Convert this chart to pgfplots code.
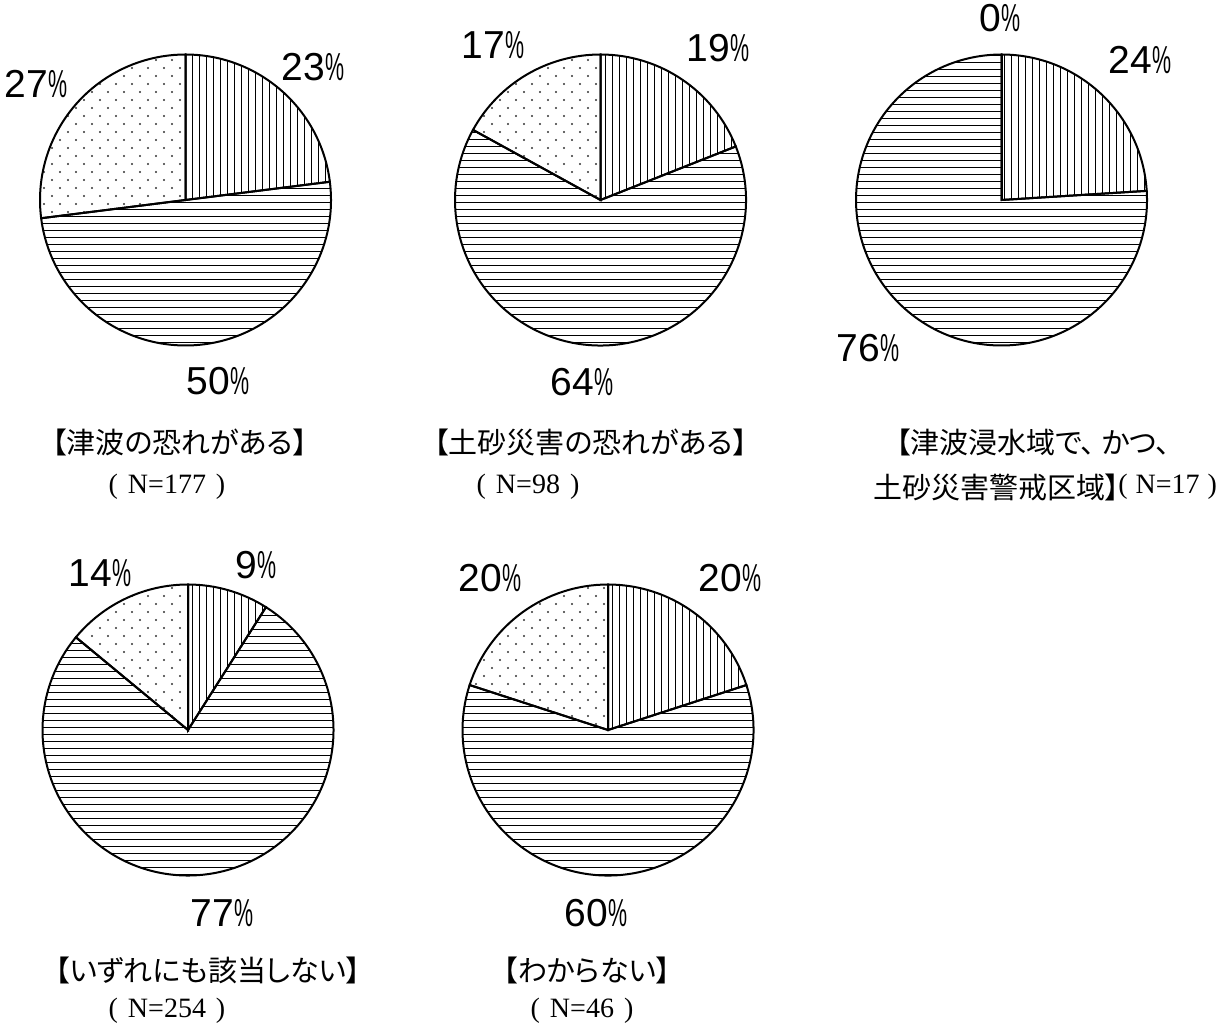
\documentclass[border=0pt]{standalone}
\usepackage{pgfplots}
\pgfplotsset{compat=1.18}
\usepackage{graphicx}
\usepackage{fontspec}
\setmainfont{Liberation Sans}
\newfontfamily\cjk[RawFeature=+palt]{Noto Sans CJK JP}
\newfontfamily\ser{Liberation Serif}
\usetikzlibrary{patterns}

\pgfdeclarepatternformonly{vlines}{\pgfpoint{-1pt}{-1pt}}{\pgfpoint{4.5pt}{4.5pt}}{\pgfpoint{3.5pt}{3.5pt}}{%
  \pgfsetlinewidth{0.65pt}%
  \pgfpathmoveto{\pgfpoint{1.75pt}{-0.5pt}}%
  \pgfpathlineto{\pgfpoint{1.75pt}{4pt}}%
  \pgfusepath{stroke}}
\pgfdeclarepatternformonly{hlines}{\pgfpoint{-1pt}{-1pt}}{\pgfpoint{4.5pt}{4.5pt}}{\pgfpoint{3.5pt}{3.5pt}}{%
  \pgfsetlinewidth{0.65pt}%
  \pgfpathmoveto{\pgfpoint{-0.5pt}{1.75pt}}%
  \pgfpathlineto{\pgfpoint{4pt}{1.75pt}}%
  \pgfusepath{stroke}}
\pgfdeclarepatternformonly{sdots}{\pgfpoint{-1pt}{-1pt}}{\pgfpoint{9pt}{9pt}}{\pgfpoint{8pt}{8pt}}{%
  \pgfpathcircle{\pgfpoint{2pt}{2pt}}{0.55pt}%
  \pgfpathcircle{\pgfpoint{6pt}{6pt}}{0.55pt}%
  \pgfusepath{fill}}

\def\R{72.75pt}
% #1,#2 centre (image px), #3 vertical-lines share, #4 horizontal-lines share, #5 dotted share (percent)
\newcommand{\pie}[5]{%
  \pgfmathsetmacro\angA{90-3.6*#3}%
  \pgfmathsetmacro\angB{\angA-3.6*#4}%
  \edef\temp{%
    \noexpand\draw[line width=1pt,pattern=vlines] (axis cs:#1,#2) -- ++(90:\R) arc[start angle=90,end angle=\angA,radius=\R] -- cycle;
    \noexpand\draw[line width=1pt,pattern=hlines] (axis cs:#1,#2) -- ++(\angA:\R) arc[start angle=\angA,end angle=\angB,radius=\R] -- cycle;
    \noexpand\draw[line width=1pt,pattern=sdots,pattern color=black!80] (axis cs:#1,#2) -- ++(\angB:\R) arc[start angle=\angB,end angle=-270,radius=\R] -- cycle;
  }\temp}
\newcommand\pct{\scalebox{0.55}[1]{\%}}

\begin{document}
\begin{tikzpicture}
\begin{axis}[x=0.5pt, y=0.5pt, y dir=reverse, xmin=0, xmax=1230, ymin=0, ymax=1032,
  hide axis, clip=false]
\path (axis cs:0,0) (axis cs:1230,1032);
\pie{185.5}{200}{23}{50}{27}
\pie{600.5}{200}{19}{64}{17}
\pie{1001.5}{200}{24}{76}{0}
\pie{188}{730}{9}{77}{14}
\pie{608}{730}{20}{60}{20}
\tikzset{pl/.style={font=\fontsize{19.5}{20}\selectfont, inner sep=0pt}}
\node[pl] at (axis cs:313,67) {23\pct};
\node[pl] at (axis cs:36,84) {27\pct};
\node[pl] at (axis cs:218,381) {50\pct};
\node[pl] at (axis cs:493,45) {17\pct};
\node[pl] at (axis cs:718,48) {19\pct};
\node[pl] at (axis cs:582,382) {64\pct};
\node[pl] at (axis cs:1000,18) {0\pct};
\node[pl] at (axis cs:1140,60) {24\pct};
\node[pl] at (axis cs:868,348) {76\pct};
\node[pl] at (axis cs:100,573) {14\pct};
\node[pl] at (axis cs:256,565) {9\pct};
\node[pl] at (axis cs:222,913) {77\pct};
\node[pl] at (axis cs:490,578) {20\pct};
\node[pl] at (axis cs:730,578) {20\pct};
\node[pl] at (axis cs:596,913) {60\pct};
\tikzset{tl/.style={font=\cjk\fontsize{14.5}{15}\selectfont, inner sep=0pt},
         nl/.style={font=\ser\fontsize{14}{15}\selectfont, inner sep=0pt}}
\node[tl] at (axis cs:180,442) {【津波の恐れがある】};
\node[nl] at (axis cs:167,487) {(\hspace{5pt}N=177\hspace{5pt})};
\node[tl] at (axis cs:591,442) {【土砂災害の恐れがある】};
\node[nl] at (axis cs:528,487) {(\hspace{5pt}N=98\hspace{5pt})};
\node[tl] at (axis cs:1033,442) {【津波浸水域で、\hspace{3pt}かつ、};
\node[tl, anchor=east] at (axis cs:1120,487) {土砂災害警戒区域】};
\node[nl, anchor=west] at (axis cs:1118,487) {(\hspace{4pt}N=17\hspace{4pt})};
\node[tl] at (axis cs:208,970) {【いずれにも該当しない】};
\node[nl] at (axis cs:167,1011) {(\hspace{5pt}N=254\hspace{5pt})};
\node[tl] at (axis cs:587,970) {【わからない】};
\node[nl] at (axis cs:582,1011) {(\hspace{5pt}N=46\hspace{5pt})};
\end{axis}
\end{tikzpicture}
\end{document}
